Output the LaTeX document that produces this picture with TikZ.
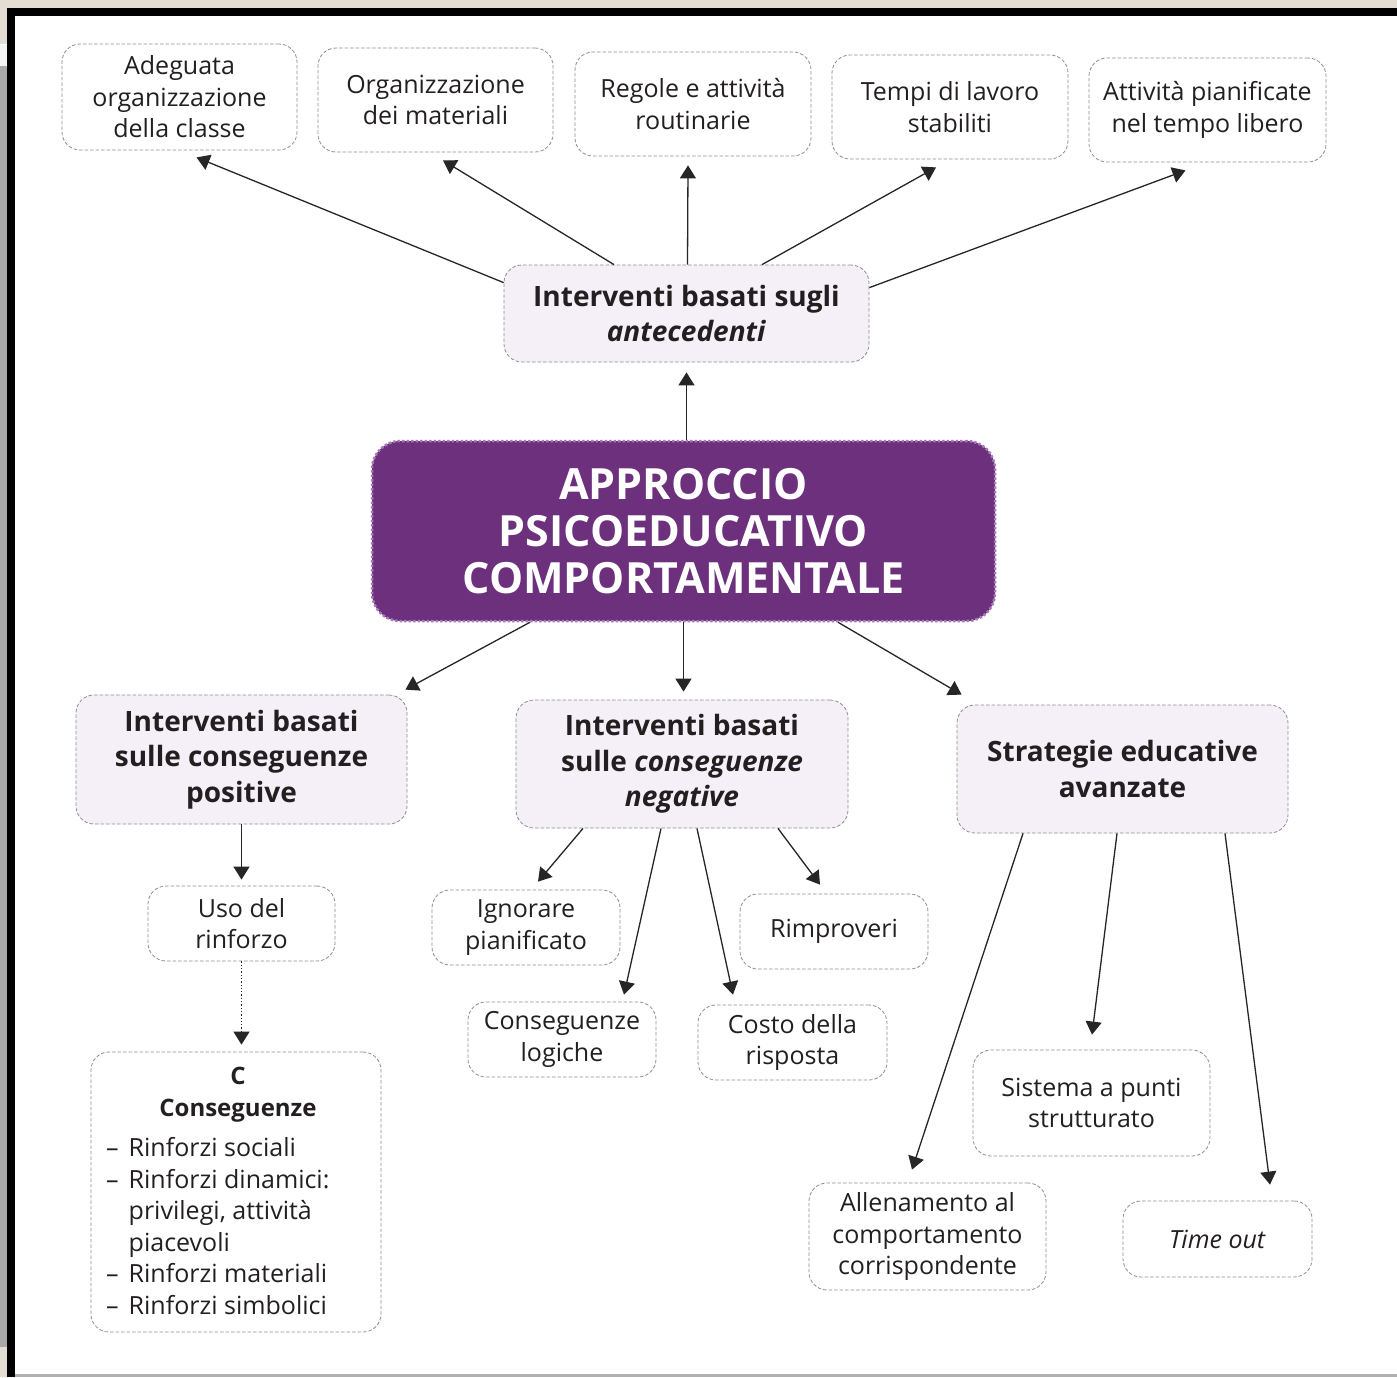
\documentclass[tikz,border=0pt]{standalone}
\usepackage{fontspec}
\setmainfont{Open Sans}
\usetikzlibrary{arrows.meta,calc}
\definecolor{txt}{HTML}{231F20}
\definecolor{linec}{HTML}{262626}
\definecolor{boxline}{HTML}{8E8E8E}
\definecolor{lav}{HTML}{F5F0F8}
\definecolor{purp}{HTML}{6C307D}
\definecolor{purpedge}{HTML}{A77AB8}
\definecolor{beige}{HTML}{E3DDD3}
\definecolor{stripgray}{HTML}{A9A9A9}
\begin{document}
\begin{tikzpicture}[x=1pt,y=-1pt,
 box/.style={draw=boxline, line width=0.8pt, dash pattern=on 3.5pt off 2pt, rounded corners=18pt, fill=white, align=center, inner sep=0pt, text=txt, font=\fontsize{25}{31.5}\selectfont},
 midbox/.style={box, fill=lav, font=\bfseries\fontsize{28}{35.5}\selectfont},
 cenbox/.style={draw=purpedge, dotted, line width=2.5pt, rounded corners=28pt, fill=purp, text=white, align=center, inner sep=0pt, font=\bfseries\fontsize{43}{47}\selectfont},
 plain/.style={inner sep=0pt, text=txt, font=\fontsize{25}{31.5}\selectfont},
 arr/.style={draw=linec, line width=1.3pt, -{Triangle[length=13pt,width=16pt]}},
 darr/.style={arr, dotted, line width=1.2pt}]
% frame
\useasboundingbox (0,0) rectangle (1397,1377);
\fill[white] (0,0) rectangle (1397,1377);
\fill[beige] (0,0) rectangle (1397,8);
\fill[beige] (0,0) rectangle (7,44);
\fill[white!92!gray] (0,45) rectangle (7,66);
\fill[stripgray] (0,66) rectangle (7,1347);
\fill[beige] (0,1347) rectangle (7,1377);
\fill[black] (7,8) rectangle (1397,16);
\fill[black] (7,8) rectangle (15,1377);
\fill[gray!60] (15,1374) rectangle (1397,1377);

% top row
\node[box, minimum width=235pt, minimum height=106pt] (b1) at (179.5,97) {Adeguata\\organizzazione\\della classe};
\node[box, minimum width=235pt, minimum height=104pt] (b2) at (435.5,100) {Organizzazione\\dei materiali};
\node[box, minimum width=236pt, minimum height=104pt] (b3) at (693,104) {Regole e attività\\routinarie};
\node[box, minimum width=236pt, minimum height=104pt] (b4) at (950,107) {Tempi di lavoro\\stabiliti};
\node[box, minimum width=237pt, minimum height=104pt] (b5) at (1207.5,110) {Attività pianificate\\nel tempo libero};

\node[midbox, minimum width=365pt, minimum height=97pt] (ant) at (686.5,313.5) {Interventi basati sugli\\\textit{antecedenti}};

\node[cenbox, minimum width=623pt, minimum height=180pt] (cen) at (683.5,531) {APPROCCIO\\PSICOEDUCATIVO\\COMPORTAMENTALE};

\node[midbox, minimum width=331pt, minimum height=129pt] (pos) at (241.5,759.5) {Interventi basati\\sulle conseguenze\\positive};
\node[midbox, minimum width=332pt, minimum height=128pt] (neg) at (682,764) {Interventi basati\\sulle \textit{conseguenze}\\\textit{negative}};
\node[midbox, minimum width=331pt, minimum height=128pt] (str) at (1122.5,769) {Strategie educative\\avanzate};

\node[box, minimum width=187pt, minimum height=75pt] (uso) at (241.5,923.5) {Uso del\\rinforzo};
\node[box, minimum width=290pt, minimum height=280pt] (cons) at (236,1192) {};
\node[plain, align=center, font=\bfseries\fontsize{24}{32}\selectfont] (consT) at (238,1095) {C\\Conseguenze};
\node[plain, align=left, anchor=west] (consL) at (106,1226) {–\hspace{10pt}Rinforzi sociali\\–\hspace{10pt}Rinforzi dinamici:\\\hphantom{–\hspace{10pt}}privilegi, attività\\\hphantom{–\hspace{10pt}}piacevoli\\–\hspace{10pt}Rinforzi materiali\\–\hspace{10pt}Rinforzi simbolici};

\node[box, minimum width=188pt, minimum height=75pt] (ign) at (526,927.5) {Ignorare\\pianificato};
\node[box, minimum width=188pt, minimum height=75pt] (logi) at (562,1039.5) {Conseguenze\\logiche};
\node[box, minimum width=189pt, minimum height=75pt] (costo) at (792.5,1042.5) {Costo della\\risposta};
\node[box, minimum width=188pt, minimum height=75pt] (rimp) at (834,931.5) {Rimproveri};

\node[box, minimum width=237pt, minimum height=107pt] (alle) at (927.5,1236.5) {Allenamento al\\comportamento\\corrispondente};
\node[box, minimum width=237pt, minimum height=106pt] (sist) at (1091.5,1103) {Sistema a punti\\strutturato};
\node[box, minimum width=189pt, minimum height=76pt] (time) at (1217.5,1239) {\textit{Time out}};

% connectors
\draw[arr] ($(ant.north west)+(0,18)$) -- ($(b1.south)+(17,7)$);
\draw[arr] ($(ant.north)+(-72.5,0)$) -- ($(b2.south)+(7.5,8)$);
\draw[arr] ($(ant.north)+(1,0)$) -- ($(b3.south)+(-5,9)$);
\draw[arr] ($(ant.north)+(75.5,0)$) -- ($(b4.south)+(-14,8)$);
\draw[arr] ($(ant.north east)+(0,23)$) -- ($(b5.south)+(-22,8)$);

\draw[arr] (cen.north -| ant.south) -- ($(ant.south)+(0,10)$);

\draw[arr] ($(cen.south)+(-153.5,0)$) -- ($(pos.north east)+(-2,-5)$);
\draw[arr] (cen.south) -- ($(cen.south |- neg.north)+(0,-8)$);
\draw[arr] ($(cen.south)+(154.5,0)$) -- ($(str.north west)+(5,-10)$);

\draw[arr] (pos.south) -- ($(uso.north)+(0,-6)$);
\draw[darr] (uso.south) -- ($(uso.south |- cons.north)+(0,-7)$);

\draw[arr] ($(neg.south)+(-99,0)$) -- ($(ign.north)+(12,-8)$);
\draw[arr] ($(neg.south)+(-21,0)$) -- ($(logi.north)+(62,-7)$);
\draw[arr] ($(neg.south)+(15,0)$) -- ($(costo.north)+(-59.5,-10)$);
\draw[arr] ($(neg.south)+(96,0)$) -- ($(rimp.north)+(-14,-9)$);

\draw[arr] ($(str.south)+(-99.5,0)$) -- ($(alle.north)+(-15.5,-13)$);
\draw[arr] ($(str.south)+(-5.5,0)$) -- ($(sist.north)+(0.5,-15)$);
\draw[arr] ($(str.south)+(102.5,0)$) -- ($(time.north)+(52.5,-16)$);
\end{tikzpicture}
\end{document}
